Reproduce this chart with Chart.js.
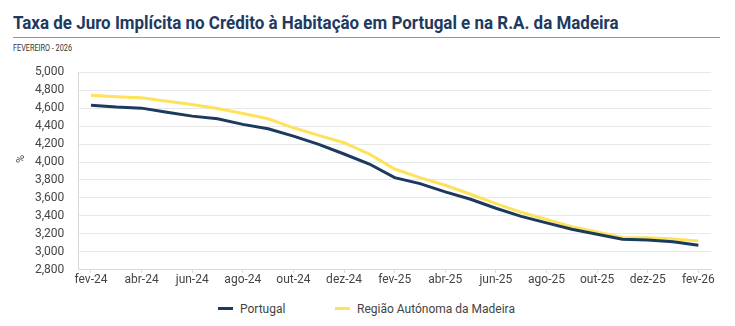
<!DOCTYPE html>
<html>
<head>
<meta charset="utf-8">
<script src="https://cdn.jsdelivr.net/npm/chart.js@4"></script>
<style>
  body { margin: 0; background: #fff; width: 735px; height: 326px; overflow: hidden; font-family: Roboto, sans-serif; }
  #title { position: absolute; left: 13px; top: 11px; font-size: 19px; font-weight: bold; color: #1e3a5f; white-space: nowrap; transform-origin: left top; }
  #rule { position: absolute; left: 13px; top: 37px; width: 707px; height: 1px; background: #8d96a5; }
  #sub { position: absolute; left: 13px; top: 43px; font-size: 9px; color: #333; white-space: nowrap; transform-origin: left top; }
  #wrap { position: absolute; left: 0; top: 51px; width: 735px; height: 240px; }
  #pct { position: absolute; left: 15px; top: 153px; width: 12px; height: 12px; font-size: 11px; color: #444; text-align: center; line-height: 12px; transform: rotate(-90deg); }
  #legend { position: absolute; top: 302px; left: 0; width: 735px; font: 12px Roboto, sans-serif; color: #444; }
  .item { position: absolute; top: 0; white-space: nowrap; }
  .item i { display: inline-block; width: 15px; height: 3px; vertical-align: middle; margin-right: 7px; position: relative; top: -1px; }
</style>
</head>
<body>
<div id="title">Taxa de Juro Implícita no Crédito à Habitação em Portugal e na R.A. da Madeira</div>
<div id="rule"></div>
<div id="sub">FEVEREIRO - 2026</div>
<div id="wrap"><canvas id="grafico"></canvas></div>
<div id="pct">%</div>
<div id="legend"></div>
<script>
// meses (fev-24 a fev-26)
const meses = [
    'fev-24', 'mar-24', 'abr-24', 'mai-24', 'jun-24', 'jul-24', 'ago-24',
    'set-24', 'out-24', 'nov-24', 'dez-24', 'jan-25', 'fev-25', 'mar-25',
    'abr-25', 'mai-25', 'jun-25', 'jul-25', 'ago-25', 'set-25', 'out-25',
    'nov-25', 'dez-25', 'jan-26', 'fev-26'
];

const portugal = [
    4.633, 4.612, 4.600, 4.555, 4.511, 4.481, 4.419, 4.370, 4.289, 4.196,
    4.089, 3.978, 3.826, 3.760, 3.667, 3.585, 3.485, 3.395, 3.322, 3.252,
    3.196, 3.141, 3.133, 3.111, 3.074
];

const madeira = [
    4.744, 4.728, 4.715, 4.676, 4.641, 4.596, 4.541, 4.481, 4.381, 4.296,
    4.215, 4.089, 3.922, 3.826, 3.741, 3.641, 3.537, 3.440, 3.360, 3.281,
    3.222, 3.159, 3.156, 3.144, 3.122
];

const nomes = ['Portugal', 'Região Autónoma da Madeira'];
const cores = ['#1b3a5e', '#fde25c'];

// encolher o título para a largura do original
function ajusta(id, largura) {
    const el = document.getElementById(id);
    el.style.transform = 'scaleX(' + (largura / el.offsetWidth) + ')';
}
ajusta('title', 606);
ajusta('sub', 59);

const fonteEixo = { family: 'Roboto', size: 12 };

const dataLinhas = {
    labels: meses,
    datasets: [{
        label: nomes[0],
        data: portugal,
        borderColor: cores[0],
        backgroundColor: cores[0],
        borderWidth: 3,
        pointRadius: 0,
        tension: 0
    },
    {
        label: nomes[1],
        data: madeira,
        borderColor: cores[1],
        backgroundColor: cores[1],
        borderWidth: 3,
        pointRadius: 0,
        tension: 0
    }]
};

const configLinhas = {
    type: 'line',
    data: dataLinhas,
    options: {
        responsive: true,
        maintainAspectRatio: false,
        animation: false,
        layout: { padding: { left: 21, right: 24, top: 12, bottom: 0 } },
        plugins: {
            legend: { display: false },
            tooltip: { enabled: false }
        },
        scales: {
            x: {
                offset: true,
                grid: { drawOnChartArea: false, drawTicks: true, tickLength: 3, color: '#d9d9d9' },
                border: { color: '#d9d9d9' },
                ticks: { color: '#444', font: fonteEixo, maxRotation: 0, autoSkip: true, padding: 0 }
            },
            y: {
                min: 2.8,
                max: 5.0,
                grid: { color: '#e8e8e8', drawTicks: false },
                border: { color: '#d9d9d9' },
                ticks: {
                    stepSize: 0.2,
                    color: '#444',
                    font: fonteEixo,
                    padding: 14,
                    callback: v => v.toFixed(3).replace('.', ',')
                }
            }
        }
    }
};

const grafico = new Chart(document.getElementById('grafico'), configLinhas);

// legenda em baixo
const legenda = document.getElementById('legend');
const posicoes = [218, 335];
nomes.forEach((n, i) => {
    const d = document.createElement('span');
    d.className = 'item';
    d.style.left = posicoes[i] + 'px';
    d.innerHTML = '<i style="background:' + cores[i] + '"></i>' + n;
    legenda.appendChild(d);
});
</script>
</body>
</html>
